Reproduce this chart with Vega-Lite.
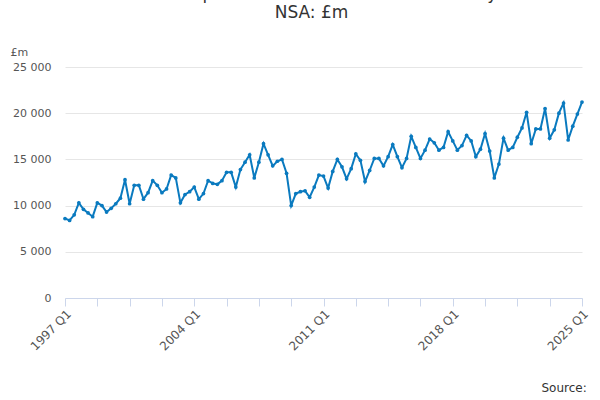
{
  "$schema": "https://vega.github.io/schema/vega-lite/v6.json",
  "width": 517,
  "height": 231,
  "autosize": "none",
  "padding": {"left": 65, "right": 18, "top": 67, "bottom": 102},
  "config": {
    "view": {"stroke": null},
    "font": "DejaVu Sans",
    "axis": {"labelColor": "#555", "labelFontSize": 11, "tickColor": "#ccd6eb", "domainColor": "#ccd6eb"}
  },
  "title": {
    "text": ["Gross Fixed Capital Formation: Plant & Machinery: CVM", "NSA: £m"],
    "fontSize": 17, "fontWeight": "normal", "color": "#333", "offset": 24, "anchor": "middle", "dx": -12
  },
  "data": {
    "values": [
      {"period": "1997 Q1", "v": 8600}, {"period": "1997 Q2", "v": 8400}, {"period": "1997 Q3", "v": 9000}, {"period": "1997 Q4", "v": 10300},
      {"period": "1998 Q1", "v": 9600}, {"period": "1998 Q2", "v": 9200}, {"period": "1998 Q3", "v": 8800}, {"period": "1998 Q4", "v": 10300},
      {"period": "1999 Q1", "v": 10000}, {"period": "1999 Q2", "v": 9300}, {"period": "1999 Q3", "v": 9700}, {"period": "1999 Q4", "v": 10200},
      {"period": "2000 Q1", "v": 10800}, {"period": "2000 Q2", "v": 12800}, {"period": "2000 Q3", "v": 10200}, {"period": "2000 Q4", "v": 12200},
      {"period": "2001 Q1", "v": 12200}, {"period": "2001 Q2", "v": 10700}, {"period": "2001 Q3", "v": 11400}, {"period": "2001 Q4", "v": 12700},
      {"period": "2002 Q1", "v": 12200}, {"period": "2002 Q2", "v": 11400}, {"period": "2002 Q3", "v": 11800}, {"period": "2002 Q4", "v": 13300},
      {"period": "2003 Q1", "v": 13000}, {"period": "2003 Q2", "v": 10300}, {"period": "2003 Q3", "v": 11200}, {"period": "2003 Q4", "v": 11500},
      {"period": "2004 Q1", "v": 12000}, {"period": "2004 Q2", "v": 10700}, {"period": "2004 Q3", "v": 11300}, {"period": "2004 Q4", "v": 12700},
      {"period": "2005 Q1", "v": 12400}, {"period": "2005 Q2", "v": 12300}, {"period": "2005 Q3", "v": 12700}, {"period": "2005 Q4", "v": 13600},
      {"period": "2006 Q1", "v": 13600}, {"period": "2006 Q2", "v": 12000}, {"period": "2006 Q3", "v": 13900}, {"period": "2006 Q4", "v": 14700},
      {"period": "2007 Q1", "v": 15500}, {"period": "2007 Q2", "v": 13000}, {"period": "2007 Q3", "v": 14700}, {"period": "2007 Q4", "v": 16700},
      {"period": "2008 Q1", "v": 15500}, {"period": "2008 Q2", "v": 14300}, {"period": "2008 Q3", "v": 14800}, {"period": "2008 Q4", "v": 15000},
      {"period": "2009 Q1", "v": 13500}, {"period": "2009 Q2", "v": 10000}, {"period": "2009 Q3", "v": 11300}, {"period": "2009 Q4", "v": 11500},
      {"period": "2010 Q1", "v": 11600}, {"period": "2010 Q2", "v": 10900}, {"period": "2010 Q3", "v": 12000}, {"period": "2010 Q4", "v": 13300},
      {"period": "2011 Q1", "v": 13200}, {"period": "2011 Q2", "v": 11900}, {"period": "2011 Q3", "v": 13700}, {"period": "2011 Q4", "v": 15000},
      {"period": "2012 Q1", "v": 14200}, {"period": "2012 Q2", "v": 12900}, {"period": "2012 Q3", "v": 14000}, {"period": "2012 Q4", "v": 15600},
      {"period": "2013 Q1", "v": 14900}, {"period": "2013 Q2", "v": 12600}, {"period": "2013 Q3", "v": 13800}, {"period": "2013 Q4", "v": 15100},
      {"period": "2014 Q1", "v": 15100}, {"period": "2014 Q2", "v": 14300}, {"period": "2014 Q3", "v": 15300}, {"period": "2014 Q4", "v": 16600},
      {"period": "2015 Q1", "v": 15300}, {"period": "2015 Q2", "v": 14100}, {"period": "2015 Q3", "v": 15100}, {"period": "2015 Q4", "v": 17500},
      {"period": "2016 Q1", "v": 16300}, {"period": "2016 Q2", "v": 15100}, {"period": "2016 Q3", "v": 16000}, {"period": "2016 Q4", "v": 17200},
      {"period": "2017 Q1", "v": 16800}, {"period": "2017 Q2", "v": 16000}, {"period": "2017 Q3", "v": 16300}, {"period": "2017 Q4", "v": 18000},
      {"period": "2018 Q1", "v": 17000}, {"period": "2018 Q2", "v": 16000}, {"period": "2018 Q3", "v": 16500}, {"period": "2018 Q4", "v": 17600},
      {"period": "2019 Q1", "v": 17000}, {"period": "2019 Q2", "v": 15300}, {"period": "2019 Q3", "v": 16100}, {"period": "2019 Q4", "v": 17800},
      {"period": "2020 Q1", "v": 15900}, {"period": "2020 Q2", "v": 13000}, {"period": "2020 Q3", "v": 14500}, {"period": "2020 Q4", "v": 17300},
      {"period": "2021 Q1", "v": 16000}, {"period": "2021 Q2", "v": 16300}, {"period": "2021 Q3", "v": 17400}, {"period": "2021 Q4", "v": 18400},
      {"period": "2022 Q1", "v": 20100}, {"period": "2022 Q2", "v": 16700}, {"period": "2022 Q3", "v": 18300}, {"period": "2022 Q4", "v": 18300},
      {"period": "2023 Q1", "v": 20500}, {"period": "2023 Q2", "v": 17300}, {"period": "2023 Q3", "v": 18200}, {"period": "2023 Q4", "v": 20000},
      {"period": "2024 Q1", "v": 21100}, {"period": "2024 Q2", "v": 17100}, {"period": "2024 Q3", "v": 18600}, {"period": "2024 Q4", "v": 19900},
      {"period": "2025 Q1", "v": 21200}
    ]
  },
  "transform": [
    {"calculate": "toNumber(substring(datum.period, 0, 4)) + (toNumber(substring(datum.period, 6)) - 1) / 4", "as": "t"},
    {"calculate": "'Gross Fixed Capital Formation: Plant & Machinery: CVM NSA: £m'", "as": "series"}
  ],
  "mark": {"type": "line", "point": {"size": 14, "filled": true}, "strokeWidth": 2},
  "encoding": {
    "x": {
      "field": "t", "type": "quantitative",
      "scale": {"domain": [1997, 2025], "nice": false, "zero": false},
      "axis": {
        "values": [1997, 1998.75, 2000.5, 2002.25, 2004, 2005.75, 2007.5, 2009.25, 2011, 2012.75, 2014.5, 2016.25, 2018, 2019.75, 2021.5, 2023.25, 2025],
        "labelExpr": "(datum.value - 1997) % 7 == 0 ? datum.value + ' Q1' : ''",
        "labelAngle": -45, "labelAlign": "right", "labelBaseline": "top", "labelFontSize": 12,
        "grid": false, "tickSize": 8, "labelFlush": false, "labelOverlap": false,
        "title": "Source:", "titleFontWeight": "normal", "titleColor": "#333",
        "titleFontSize": 12, "titleY": 96, "titleX": 476, "titleAlign": "left", "titleBaseline": "bottom"
      }
    },
    "y": {
      "field": "v", "type": "quantitative",
      "scale": {"domain": [0, 25000]},
      "axis": {
        "values": [0, 5000, 10000, 15000, 20000, 25000],
        "labelExpr": "replace(format(datum.value, ','), ',', ' ')",
        "domain": false, "ticks": false, "gridColor": "#e6e6e6", "labelPadding": 14,
        "title": "£m", "titleAngle": 0, "titleAlign": "left", "titleBaseline": "bottom",
        "titleX": -55, "titleY": -10, "titleFontWeight": "normal", "titleColor": "#555", "titleFontSize": 11
      }
    },
    "color": {
      "field": "series", "type": "nominal",
      "scale": {"range": ["#0a7abf"]},
      "legend": {"orient": "bottom", "title": null, "labelFontSize": 13, "labelFontWeight": "bold", "labelColor": "#333", "labelLimit": 600, "symbolType": "stroke", "symbolStrokeWidth": 2, "offset": 22}
    }
  }
}
